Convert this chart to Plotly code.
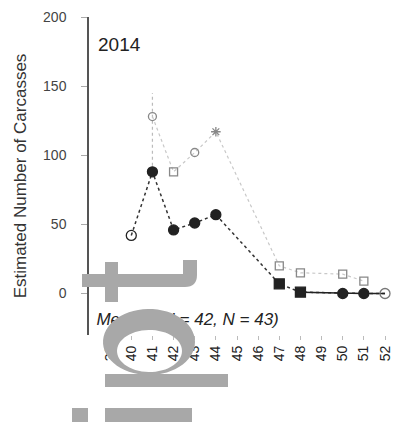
import numpy as np
import plotly.graph_objects as go

# ---- data ----
weeks_est = [40, 41, 42, 43, 44, 47, 48, 50, 51, 52]
est_values = [42, 88, 46, 51, 57, 7, 1, 0, 0, 0]
weeks_upper = [41, 42, 43, 44, 47, 48, 50, 51]
upper_values = [128, 88, 102, 117, 20, 15, 14, 9]
ci_week = [41, 41]
ci_range = [88, 145]
x_ticks = list(range(39, 53))
y_ticks = [0, 50, 100, 150, 200]
year_label = "2014"
median_label = "Median (H = 42, N = 43)"

W, H = 396, 422
L, R, T, B = 89, 0, 17, 87
PW, PH = W - L - R, H - T - B

def px(x):
    return (x - L) / PW

def py(y):
    return (H - B - y) / PH

est_symbols = ["circle-open", "circle", "circle", "circle", "circle",
               "square", "square", "circle", "circle", "circle-open"]
est_colors = ["#222"] * 9 + ["#777"]
upper_symbols = ["circle-open", "square-open", "circle-open", "asterisk-open",
                 "square-open", "square-open", "square-open", "square-open"]

fig = go.Figure()

fig.add_trace(go.Scatter(x=ci_week, y=ci_range, mode="lines",
                         line=dict(color="#bbb", width=1.2, dash="dot"),
                         showlegend=False, hoverinfo="skip"))
fig.add_trace(go.Scatter(x=weeks_upper, y=upper_values, mode="lines+markers",
                         line=dict(color="#c8c8c8", width=1.2, dash="dot"),
                         marker=dict(symbol=upper_symbols, size=8, color="#888",
                                     line=dict(color="#888", width=1.3)),
                         showlegend=False))
fig.add_trace(go.Scatter(x=weeks_est, y=est_values, mode="lines",
                         line=dict(color="#333", width=1.5, dash="dot"),
                         showlegend=False))
fig.add_trace(go.Scatter(x=weeks_est[6:], y=est_values[6:], mode="lines",
                         line=dict(color="#222", width=1.5),
                         showlegend=False))
fig.add_trace(go.Scatter(x=weeks_est, y=est_values, mode="markers",
                         marker=dict(symbol=est_symbols, size=10, color=est_colors,
                                     line=dict(color=est_colors, width=1.3)),
                         showlegend=False))
fig.add_trace(go.Scatter(x=[38.35], y=[-19.5], mode="text", text=[median_label],
                         textposition="middle right",
                         textfont=dict(family="Liberation Sans, Arial", size=17,
                                       color="#222", style="italic"),
                         showlegend=False, hoverinfo="skip", cliponaxis=False))

gray = "#a8a8a8"
shapes = []
shapes.append(dict(type="rect", xref="paper", yref="paper",
                   x0=px(105), x1=px(118), y0=py(302), y1=py(262),
                   fillcolor=gray, line=dict(width=0), layer="above"))
pts = [(82, 274), (183, 274), (183, 260), (197, 260), (197, 275)]
path = "M " + " L ".join(f"{px(a):.4f},{py(b):.4f}" for a, b in pts)
path += f" Q {px(197):.4f},{py(287):.4f} {px(185):.4f},{py(287):.4f}"
path += f" L {px(82):.4f},{py(287):.4f} Z"
shapes.append(dict(type="path", xref="paper", yref="paper", path=path,
                   fillcolor=gray, line=dict(width=0), layer="above"))
t = np.linspace(0, 2 * np.pi, 60)
outer = [(149 + 46 * np.cos(a), 342 + 33 * np.sin(a)) for a in t]
inner = [(149.5 + 32.5 * np.cos(a), 351 + 21 * np.sin(a)) for a in t]
def sub(p):
    return "M " + " L ".join(f"{px(a):.4f},{py(b):.4f}" for a, b in p) + " Z"
shapes.append(dict(type="path", xref="paper", yref="paper",
                   path=sub(outer) + " " + sub(inner[::-1]),
                   fillcolor=gray, fillrule="evenodd", line=dict(width=0),
                   layer="above"))
for (x0, x1, y0, y1) in [(105, 228, 374, 387), (72, 88, 408, 422), (105, 192, 408, 422)]:
    shapes.append(dict(type="rect", xref="paper", yref="paper",
                       x0=px(x0), x1=px(x1), y0=py(y1), y1=py(y0),
                       fillcolor=gray, line=dict(width=0), layer="above"))

fig.update_layout(
    width=W, height=H,
    margin=dict(l=L, r=R, t=T, b=B, pad=0),
    paper_bgcolor="white", plot_bgcolor="white",
    font=dict(family="Liberation Sans, Arial", color="#333", size=13),
    shapes=shapes,
    annotations=[dict(x=px(96), y=py(45), xref="paper", yref="paper",
                      text=year_label, showarrow=False, xanchor="left",
                      yanchor="middle", font=dict(size=19, color="#222"))],
)
fig.update_xaxes(range=[38, 52.52], tickmode="array", tickvals=x_ticks,
                 ticktext=[str(v) for v in x_ticks], tickangle=-90,
                 showgrid=False, zeroline=False, showline=False,
                 ticks="outside", ticklen=4, tickcolor="#bbb",
                 tickfont=dict(size=14, color="#222"))
fig.update_yaxes(range=[-30, 200], tickvals=y_ticks, showgrid=False,
                 zeroline=False, showline=True, linecolor="#555", linewidth=1.5,
                 ticks="outside", ticklen=6, tickcolor="#aaa",
                 ticklabelstandoff=12,
                 tickfont=dict(size=14, color="#444"),
                 title=dict(text="Estimated Number of Carcasses",
                            font=dict(size=17, color="#333"), standoff=12))

fig.write_html("out.html")
